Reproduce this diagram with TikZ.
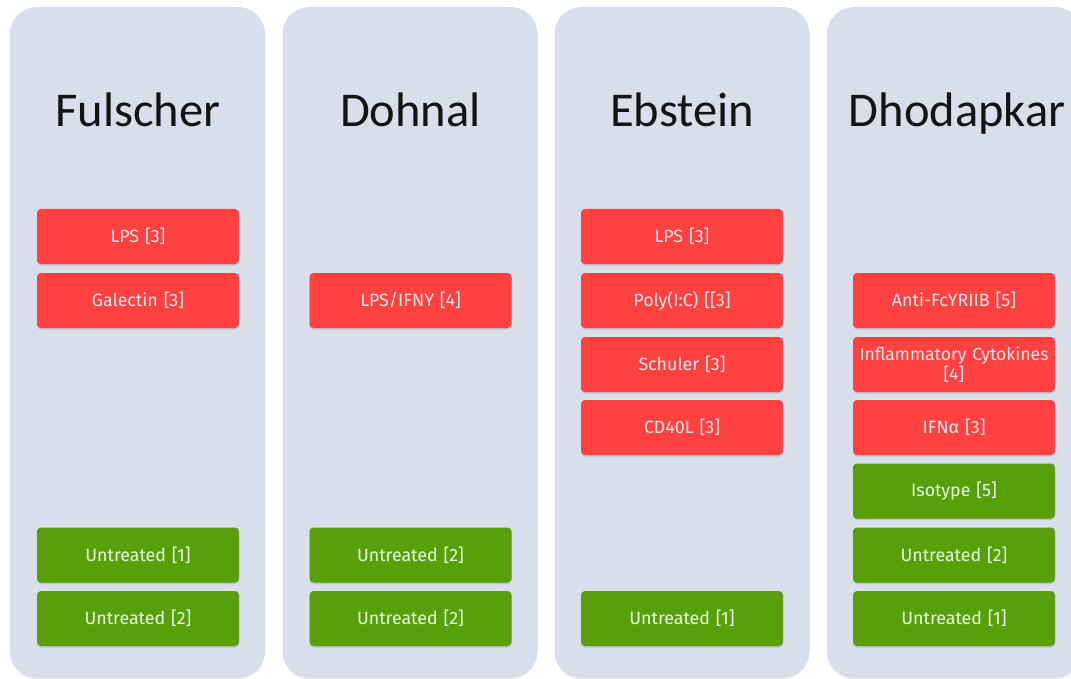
\documentclass[tikz,border=0pt]{standalone}
\usepackage{fontspec}
\newfontfamily\titlefont{Carlito}
\newfontfamily\boxfont{Fira Sans}
\usetikzlibrary{shadows}
\definecolor{panelbg}{RGB}{216,222,234}
\definecolor{redbox}{RGB}{254,66,66}
\definecolor{greenbox}{RGB}{88,160,10}
\tikzset{
  panel/.style={fill=panelbg, rounded corners=27pt, minimum width=255pt, minimum height=671pt, inner sep=0pt, draw=none,
    drop shadow={opacity=0.12, shadow xshift=0pt, shadow yshift=-1.5pt}},
  coltitle/.style={font=\titlefont\fontsize{48.5}{52}\selectfont, text=black!92, anchor=base, inner sep=0pt},
  sbox/.style={minimum width=202pt, minimum height=55pt, rounded corners=4pt, inner sep=2pt, align=center,
    text width=198pt, font=\boxfont\fontsize{17.8}{20}\selectfont,
    drop shadow={opacity=0.3, shadow xshift=0pt, shadow yshift=-1.5pt}},
  treat/.style={sbox, fill=redbox, text=white!90!red},
  ctrl/.style={sbox, fill=greenbox, text=white!90!green},
}
\begin{document}
\begin{tikzpicture}[x=1pt,y=-1pt]
\clip (0,0) rectangle (1071,679);
\fill[white] (0,0) rectangle (1071,679);
% panels
\node[panel] (p1) at (137.5,342.5) {};
\node[panel] (p2) at (410,342.5) {};
\node[panel] (p3) at (682,342.5) {};
\node[panel] (p4) at (954.5,342.5) {};
% titles
\node[coltitle] (t1) at (138,127) {Fulscher};
\node[coltitle] (t2) at (410.5,127) {Dohnal};
\node[coltitle] (t3) at (682,127) {Ebstein};
\node[coltitle] (t4) at (957,127) {Dhodapkar};
% column 1
\node[treat] (a1) at (138,236.5) {LPS [3]};
\node[treat] (a2) at (138,300.5) {Galectin [3]};
\node[ctrl]  (a6) at (138,555) {Untreated [1]};
\node[ctrl]  (a7) at (138,618.5) {Untreated [2]};
% column 2
\node[treat] (b2) at (410.5,300.5) {LPS/IFNY [4]};
\node[ctrl]  (b6) at (410.5,555) {Untreated [2]};
\node[ctrl]  (b7) at (410.5,618.5) {Untreated [2]};
% column 3
\node[treat] (c1) at (682,236.5) {LPS [3]};
\node[treat] (c2) at (682,300.5) {Poly(I:C) [[3]};
\node[treat] (c3) at (682,364.5) {Schuler [3]};
\node[treat] (c4) at (682,427.5) {CD40L [3]};
\node[ctrl]  (c7) at (682,618.5) {Untreated [1]};
% column 4
\node[treat] (d2) at (954,300.5) {Anti-FcYRIIB [5]};
\node[treat, font=\boxfont\fontsize{17.6}{20}\selectfont] (d3) at (954,364.5) {Inflammatory Cytokines\\[0pt]{[4]}};
\node[treat] (d4) at (954,427.5) {IFNα [3]};
\node[ctrl]  (d5) at (954,491) {Isotype [5]};
\node[ctrl]  (d6) at (954,555) {Untreated [2]};
\node[ctrl]  (d7) at (954,618.5) {Untreated [1]};
\end{tikzpicture}
\end{document}
